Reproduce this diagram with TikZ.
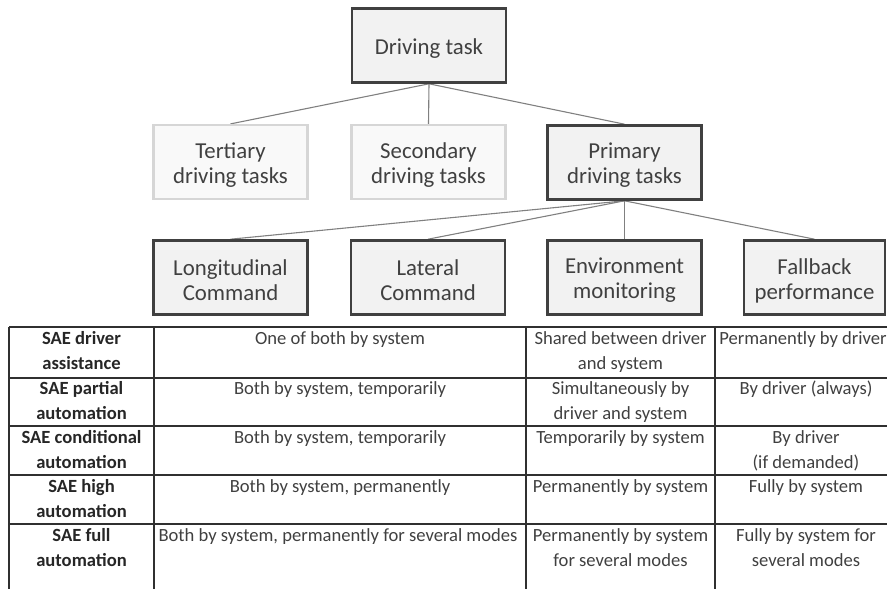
\documentclass[tikz,border=0pt]{standalone}
\usepackage{fontspec}
\setmainfont{Carlito}
\usetikzlibrary{backgrounds}
\definecolor{boxfill}{HTML}{F2F2F2}
\definecolor{boxdraw}{HTML}{404040}
\definecolor{lightdraw}{HTML}{D6D6D6}
\definecolor{lightfill}{HTML}{F9F9F9}
\definecolor{txt}{HTML}{404040}
\definecolor{conn}{HTML}{808080}
\definecolor{rule}{HTML}{303030}
\begin{document}
\begin{tikzpicture}[x=1pt,y=-1pt,
  boxtext/.style={font=\fontsize{22.8}{25}\selectfont,text=txt,align=center,inner sep=0pt},
  mainbox/.style={draw=boxdraw,line width=2.6pt,fill=boxfill,minimum width=154pt,minimum height=74pt,
    inner sep=0pt,label={[boxtext,yshift=-3pt]center:#1}},
  lightbox/.style={draw=lightdraw,line width=2.2pt,fill=lightfill,minimum width=154pt,minimum height=74pt,
    inner sep=0pt,label={[boxtext,yshift=-3pt]center:#1}},
  conn/.style={draw=conn,line width=1.1pt},
  rulel/.style={draw=rule,line width=1.3pt},
  cell/.style={anchor=north,inner sep=0pt,align=center,text=txt,font=\fontsize{18.6}{25}\selectfont},
  hcell/.style={cell,text=black!85,font=\fontsize{18.6}{25}\selectfont\bfseries}]
\useasboundingbox (0,0) rectangle (887,589);
% tree
\node[mainbox={Driving task}] (drv) at (429,45.5) {};
\node[lightbox={Tertiary\\driving tasks}] (ter) at (230.5,162) {};
\node[lightbox={Secondary\\driving tasks}] (sec) at (428.5,162) {};
\node[mainbox={Primary\\driving tasks}] (pri) at (624.5,162.5) {};
\node[mainbox={Longitudinal\\Command}] (lon) at (230.5,277.5) {};
\node[mainbox={Lateral\\Command}] (lat) at (428,277.5) {};
\node[mainbox={Environment\\monitoring}] (env) at (624.5,277.5) {};
\node[mainbox={Fallback\\performance},minimum width=141pt] (fal) at (814.5,277.5) {};
\begin{scope}[on background layer]
\draw[conn] (drv.south) -- (ter.north);
\draw[conn] (drv.south) -- (sec.north);
\draw[conn] (drv.south) -- (pri.north);
\draw[conn] (pri.south) -- (lon.north);
\draw[conn] (pri.south) -- (lat.north);
\draw[conn] (pri.south) -- (env.north);
\draw[conn] (pri.south) -- (fal.north);
\end{scope}
% table
\draw[rulel] (9,327) -- (887,327);
\foreach \y in {378,426,475,524} {\draw[rulel] (9,\y) -- (887,\y);}
\foreach \x in {9,154,526,715} {\draw[rulel] (\x,327) -- (\x,589);}
% row 1
\node[hcell] (r1a) at (81.5,331) {SAE driver\\assistance};
\node[cell] (r1b) at (340,331) {One of both by system};
\node[cell] (r1c) at (620.5,331) {Shared between driver\\and system};
\node[cell] (r1d) at (803,331) {Permanently by driver};
% row 2
\node[hcell] (r2a) at (81.5,381) {SAE partial\\automation};
\node[cell] (r2b) at (340,381) {Both by system, temporarily};
\node[cell] (r2c) at (620.5,381) {Simultaneously by\\driver and system};
\node[cell] (r2d) at (806,381) {By driver (always)};
% row 3
\node[hcell] (r3a) at (81.5,430) {SAE conditional\\automation};
\node[cell] (r3b) at (340,430) {Both by system, temporarily};
\node[cell] (r3c) at (620.5,430) {Temporarily by system};
\node[cell] (r3d) at (806,430) {By driver\\(if demanded)};
% row 4
\node[hcell] (r4a) at (81.5,479) {SAE high\\automation};
\node[cell] (r4b) at (340,479) {Both by system, permanently};
\node[cell] (r4c) at (620.5,479) {Permanently by system};
\node[cell] (r4d) at (806,479) {Fully by system};
% row 5
\node[hcell] (r5a) at (81.5,528) {SAE full\\automation};
\node[cell] (r5b) at (338,528) {Both by system, permanently for several modes};
\node[cell] (r5c) at (620.5,528) {Permanently by system\\for several modes};
\node[cell] (r5d) at (806,528) {Fully by system for\\several modes};
\end{tikzpicture}
\end{document}
